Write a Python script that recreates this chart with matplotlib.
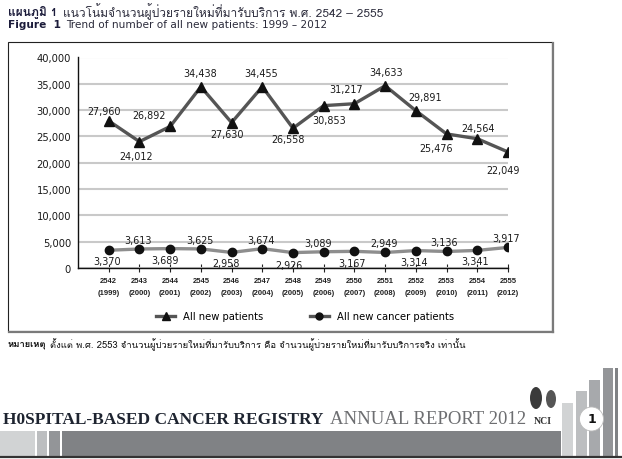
import matplotlib
matplotlib.use("Agg")
import matplotlib.pyplot as plt
from matplotlib import font_manager
from matplotlib.ft2font import FT2Font
from matplotlib.lines import Line2D
from matplotlib.patches import Rectangle, Ellipse

# ---------------- data ----------------
years_be = ["2542", "2543", "2544", "2545", "2546", "2547", "2548",
            "2549", "2550", "2551", "2552", "2553", "2554", "2555"]
years_ce = ["1999", "2000", "2001", "2002", "2003", "2004", "2005",
            "2006", "2007", "2008", "2009", "2010", "2011", "2012"]
all_new_patients = [27960, 24012, 26892, 34438, 27630, 34455, 26558,
                    30853, 31217, 34633, 29891, 25476, 24564, 22049]
all_new_cancer = [3370, 3613, 3689, 3625, 2958, 3674, 2926,
                  3089, 3167, 2949, 3314, 3136, 3341, 3917]
series_names = ["All new patients", "All new cancer patients"]
y_ticks = [0, 5000, 10000, 15000, 20000, 25000, 30000, 35000, 40000]

title_th_bold = "แผนภูมิ 1"
title_th = "แนวโน้มจำนวนผู้ป่วยรายใหม่ที่มารับบริการ พ.ศ. 2542 – 2555"
title_en_bold = "Figure  1"
title_en = "Trend of number of all new patients: 1999 – 2012"
note_bold = "หมายเหตุ"
note_text = "ตั้งแต่ พ.ศ. 2553 จำนวนผู้ป่วยรายใหม่ที่มารับบริการ คือ จำนวนผู้ป่วยรายใหม่ที่มารับบริการจริง เท่านั้น"
footer_bold = "H0SPITAL-BASED CANCER REGISTRY"
footer_reg = "ANNUAL REPORT 2012"

# label offsets in pixels (layout only)
off_all = [(-5, 10), (-3, -14), (-21, 11), (-1, 14), (-5, -11), (-1, 14), (-5, -11),
           (5, -14), (-8, 15), (1, 14), (9, 14), (-11, -14), (1, 11), (-5, -18)]
off_can = [(-2, -11), (-1, 9), (-5, -11), (-1, 9), (-6, -11), (-1, 9), (-4, -12),
           (-6, 9), (-2, -12), (-1, 9), (-2, -11), (-3, 9), (-2, -11), (-2, 9)]

# ---------------- fonts ----------------
thai_family = None
for f in font_manager.fontManager.ttflist:
    try:
        cm = FT2Font(f.fname).get_charmap()
    except Exception:
        continue
    if 0x0E08 in cm and 0x0E2B in cm:
        thai_family = f.name
        break
thai_fam = [thai_family, "DejaVu Sans"] if thai_family else ["DejaVu Sans"]

W, H = 622, 460
fig = plt.figure(figsize=(W / 100, H / 100), dpi=100)
fig.patch.set_facecolor("white")


def fx(x):
    return x / W


def fy(y):
    return 1 - y / H


renderer = fig.canvas.get_renderer()


def text_run(x, y, parts, gap=4):
    for s, props in parts:
        t = fig.text(fx(x), fy(y), s, ha="left", va="center", **props)
        bb = t.get_window_extent(renderer)
        x += bb.width + gap


# ---------------- titles ----------------
text_run(8, 12, [(title_th_bold, dict(family=thai_fam, fontsize=8.6, fontweight="bold", color="#1b1b3a")),
                 (title_th, dict(family=thai_fam, fontsize=8.6, color="#2b2b3b"))], gap=6)
text_run(8, 25, [(title_en_bold, dict(family="DejaVu Sans", fontsize=7.6, fontweight="bold", color="#1b1b3a")),
                 (title_en, dict(family="DejaVu Sans", fontsize=7.6, color="#2b2b3b"))], gap=5)

# ---------------- frame ----------------
fig.patches.append(Rectangle((fx(8), fy(332)), (552 - 8) / W, (332 - 43) / H,
                             transform=fig.transFigure, fill=False, ec="#222222", lw=0.8))
fig.lines.append(Line2D([fx(553), fx(553)], [fy(44), fy(333)], transform=fig.transFigure,
                        color="#7a7a7a", lw=1.6))
fig.lines.append(Line2D([fx(9), fx(553)], [fy(333), fy(333)], transform=fig.transFigure,
                        color="#7a7a7a", lw=1.6))

# ---------------- chart ----------------
ax = fig.add_axes([fx(78), fy(269), (508 - 78) / W, (269 - 58.5) / H])
x = list(range(len(years_be)))
ax.set_xlim(-1, len(years_be) - 1)
ax.set_ylim(0, 40000)
ax.set_yticks(y_ticks)
ax.set_yticklabels([f"{v:,}" for v in y_ticks])
ax.yaxis.grid(True, color="#c9c9c9", lw=1.5)
ax.set_axisbelow(True)
for s in ["top", "right"]:
    ax.spines[s].set_visible(False)
for s in ["left", "bottom"]:
    ax.spines[s].set_color("#111111")
    ax.spines[s].set_linewidth(1.0)
ax.tick_params(axis="y", length=0, pad=5, labelsize=7.2, labelcolor="#1a1a1a")
ax.set_xticks(x)
ax.set_xticklabels([f"{b}\n({c})" for b, c in zip(years_be, years_ce)],
                   fontsize=5.5, fontweight="bold", family="Liberation Sans",
                   color="#222222", linespacing=2.0)
ax.tick_params(axis="x", direction="inout", length=6, width=0.8, pad=3.5, color="#222222")

ax.plot(x, all_new_patients, color="#555555", lw=2.4, marker="^", ms=7,
        mfc="#111111", mec="#111111", zorder=3)
ax.plot(x, all_new_cancer, color="#8e8e8e", lw=2.4, marker="o", ms=6,
        mfc="#111111", mec="#111111", zorder=3)

for xi, v, (dx, dy) in zip(x, all_new_patients, off_all):
    ax.annotate(f"{v:,}", (xi, v), xytext=(dx, dy), textcoords="offset pixels",
                ha="center", va="center", fontsize=6.9, color="#1a1a1a")
for xi, v, (dx, dy) in zip(x, all_new_cancer, off_can):
    ax.annotate(f"{v:,}", (xi, v), xytext=(dx, dy), textcoords="offset pixels",
                ha="center", va="center", fontsize=6.9, color="#1a1a1a")

handles = [Line2D([], [], color="#555555", lw=2.4, marker="^", ms=5.5, mfc="#111111", mec="#111111"),
           Line2D([], [], color="#555555", lw=2.4, marker="o", ms=5, mfc="#111111", mec="#111111")]
fig.legend(handles, series_names, loc="center", bbox_to_anchor=(fx(305), fy(317)), ncol=2,
           frameon=False, fontsize=7.2, handlelength=1.9, handletextpad=0.8, columnspacing=4.6)

# ---------------- note ----------------
text_run(8, 345, [(note_bold, dict(family=thai_fam, fontsize=6.8, fontweight="bold", color="#111111")),
                  (note_text, dict(family=thai_fam, fontsize=6.8, color="#111111"))], gap=3)

# ---------------- footer ----------------
text_run(3, 420, [(footer_bold, dict(family="Liberation Serif", fontsize=12.5, fontweight="bold", color="#1e2430")),
                  (footer_reg, dict(family="Liberation Serif", fontsize=13.5, color="#6d6e71"))], gap=6)

band = [(0, 35, "#d1d3d4"), (37, 47, "#bcbec0"), (49, 60, "#939598"), (62, 561, "#808285")]
for x0, x1, c in band:
    fig.patches.append(Rectangle((fx(x0), fy(457)), (x1 - x0) / W, 25 / H,
                                 transform=fig.transFigure, fc=c, ec="none"))
bars = [(562, 573, 404, "#d1d3d4"), (576, 587, 392, "#bcbec0"), (589, 600, 381, "#a7a9ac"),
        (603, 613, 369, "#939598"), (615, 618, 369, "#808285")]
for x0, x1, top, c in bars:
    fig.patches.append(Rectangle((fx(x0), fy(457)), (x1 - x0) / W, (457 - top) / H,
                                 transform=fig.transFigure, fc=c, ec="none"))
fig.lines.append(Line2D([0, 1], [fy(458.3), fy(458.3)], transform=fig.transFigure,
                        color="#333333", lw=1.6))
fig.patches.append(Ellipse((fx(591.5), fy(420)), 24 / W, 24 / H, transform=fig.transFigure,
                           fc="white", ec="#bbbbbb", lw=0.6))
fig.text(fx(591.5), fy(420), "1", ha="center", va="center", fontsize=9,
         fontweight="bold", color="#111111", family="DejaVu Sans")

# NCI mark
fig.patches.append(Ellipse((fx(536), fy(399)), 12 / W, 22 / H, angle=0, transform=fig.transFigure,
                           fc="#3a3a3a", ec="none"))
fig.patches.append(Ellipse((fx(551), fy(400)), 10 / W, 18 / H, transform=fig.transFigure,
                           fc="#555555", ec="none"))
fig.text(fx(543), fy(422), "NCI", ha="center", va="center", fontsize=7,
         fontweight="bold", color="#333333", family="Liberation Serif")

fig.savefig("out.png", dpi=100)
